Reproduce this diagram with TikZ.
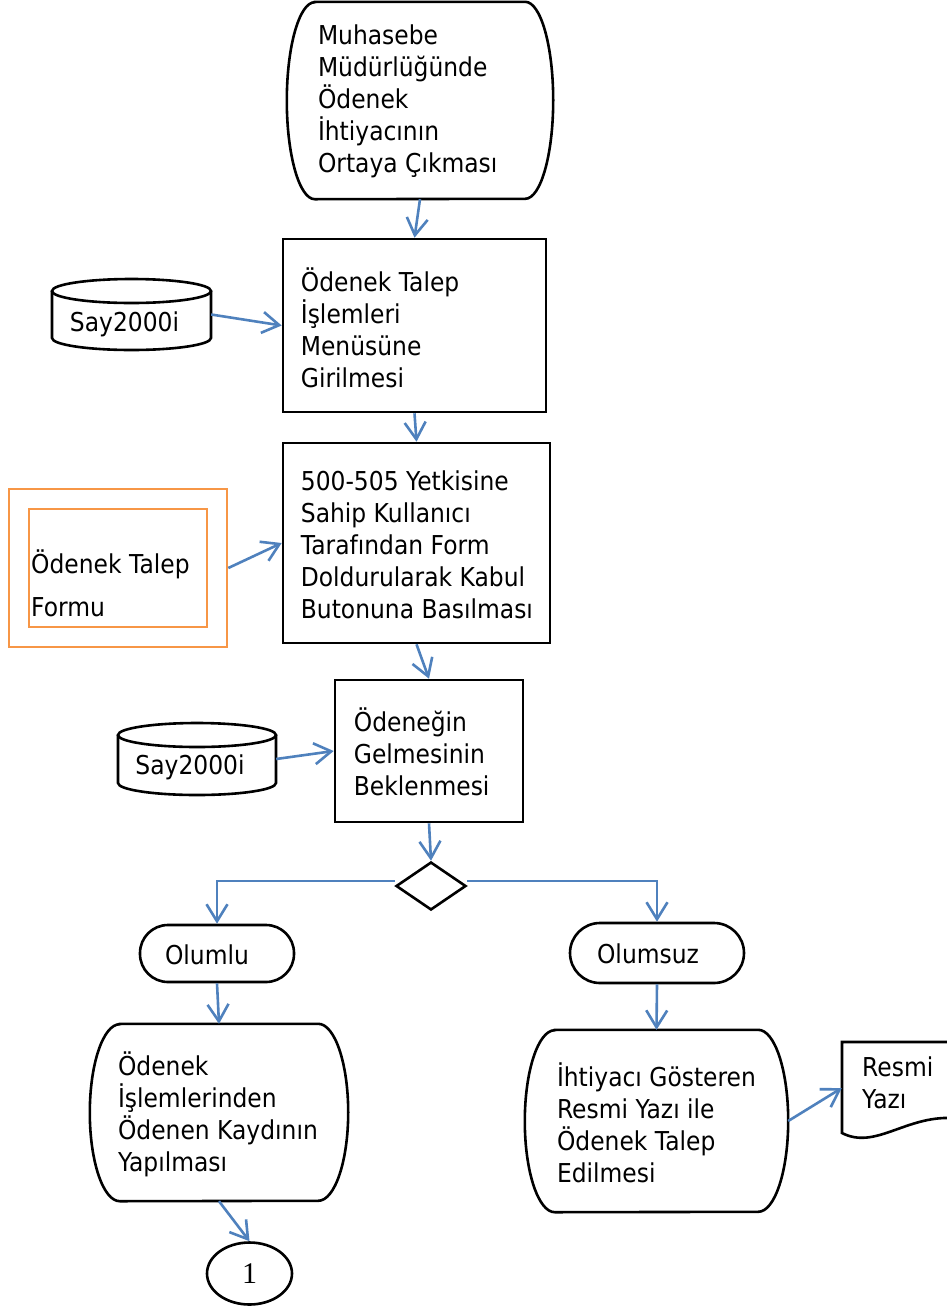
\documentclass[tikz,border=0pt]{standalone}
\usepackage{fontspec}
\setmainfont{DejaVu Sans}[FakeStretch=0.9]
\newfontfamily\serifone{Liberation Serif}
\usetikzlibrary{arrows.meta,shapes.geometric,calc}
\definecolor{arrowblue}{HTML}{4F81BD}
\definecolor{formorange}{HTML}{F79646}
\newcommand\termoutline[3]{% node name, side radius, half height
  \draw[outline] ($(#1.north west)+(#2,0)$) -- ($(#1.north east)+(-#2,0)$)
    arc[start angle=90, end angle=-90, x radius=#2pt, y radius=#3pt]
    -- ($(#1.south west)+(#2,0)$)
    arc[start angle=270, end angle=90, x radius=#2pt, y radius=#3pt] -- cycle;}
\begin{document}
\begin{tikzpicture}[x=1pt,y=-1pt,
  every node/.style={font=\fontsize{26}{32}\selectfont, inner sep=0pt},
  shapebox/.style={draw, line width=2.6pt, rectangle},
  term/.style={rectangle},
  pill/.style={draw, line width=2.6pt, rectangle, rounded corners=28pt},
  txt/.style={align=left, anchor=west},
  outline/.style={line width=2.6pt},
  conn/.style={draw=arrowblue, line width=2.6pt, -{Straight Barb[length=17pt,width=21pt,line width=2.6pt]}},
]
\useasboundingbox (0,0) rectangle (947,1307);

% top terminal
\node[term, minimum width=266pt, minimum height=197pt] (term1) at (420,100.5) {};
\termoutline{term1}{28}{98.5}
\node[txt] (t1) at ($(term1.west)+(31,1)$) {Muhasebe\\Müdürlüğünde\\Ödenek\\İhtiyacının\\Ortaya Çıkması};

% box 2
\node[shapebox, minimum width=263pt, minimum height=173pt] (b2) at (414.5,325.5) {};
\node[txt] (t2) at ($(b2.west)+(19,2)$) {Ödenek Talep\\İşlemleri\\Menüsüne\\Girilmesi};

% cylinder 1
\node[minimum width=159pt, minimum height=71pt] (cyl1) at (131.5,314.5) {};
\draw[outline] (131.5,291) ellipse [x radius=79.5pt, y radius=12pt];
\draw[outline] (52,291) -- (52,338) arc[start angle=180, end angle=360, x radius=79.5pt, y radius=12pt] -- (211,291);
\node (c1t) at ($(cyl1.center)+(-7,10)$) {Say2000i};

% box 3
\node[shapebox, minimum width=267pt, minimum height=200pt] (b3) at (416.5,543) {};
\node[txt] (t3) at ($(b3.west)+(19,2)$) {500-505 Yetkisine\\Sahip Kullanıcı\\Tarafından Form\\Doldurularak Kabul\\Butonuna Basılması};

% orange form
\node[draw=formorange, line width=2.6pt, minimum width=218pt, minimum height=158pt] (formout) at (118,568) {};
\node[draw=formorange, line width=2.6pt, minimum width=178pt, minimum height=118pt] (formin) at (118,568) {};
\node[txt, font=\fontsize{26}{43}\selectfont] (tf) at (31,583) {Ödenek Talep\\Formu};

% box 4
\node[shapebox, minimum width=188pt, minimum height=142pt] (b4) at (429,751) {};
\node[txt] (t4) at ($(b4.west)+(20,1)$) {Ödeneğin\\Gelmesinin\\Beklenmesi};

% cylinder 2
\node[minimum width=158pt, minimum height=72pt] (cyl2) at (197,759) {};
\draw[outline] (197,735) ellipse [x radius=79pt, y radius=12pt];
\draw[outline] (118,735) -- (118,783) arc[start angle=180, end angle=360, x radius=79pt, y radius=12pt] -- (276,735);
\node (c2t) at ($(cyl2.center)+(-7,8)$) {Say2000i};

% decision
\node[draw, diamond, line width=2.6pt, minimum width=70pt, minimum height=48pt] (dia) at (431,886) {};

% outcomes
\node[pill, minimum width=154pt, minimum height=57pt] (olumlu) at (217,953.5) {};
\node (tol) at ($(olumlu.center)+(-10,1)$) {Olumlu};
\node[pill, rounded corners=30pt, minimum width=174pt, minimum height=60pt] (olumsuz) at (657,953) {};
\node (tos) at ($(olumsuz.center)+(-9,1)$) {Olumsuz};

% bottom terminals
\node[term, minimum width=258pt, minimum height=177pt] (term2) at (219,1112.5) {};
\termoutline{term2}{30}{88.5}
\node[txt] (t5) at ($(term2.west)+(28,2)$) {Ödenek\\İşlemlerinden\\Ödenen Kaydının\\Yapılması};

\node[term, minimum width=263pt, minimum height=182pt] (term3) at (656.5,1121) {};
\termoutline{term3}{30}{91}
\node[txt] (t6) at ($(term3.west)+(32,2)$) {İhtiyacı Gösteren\\Resmi Yazı ile\\Ödenek Talep\\Edilmesi};

% document
\node[minimum width=110pt, minimum height=93pt] (doc) at (897,1088) {};
\draw[outline] (952,1042) -- (842,1042) -- (842,1133) .. controls (875,1150) and (905,1116) .. (952,1118);
\node[txt] (t7) at (862,1083) {Resmi\\Yazı};

% connector circle
\node[draw, ellipse, line width=2.6pt, minimum width=85pt, minimum height=62pt, font=\serifone\fontsize{30}{32}\selectfont] (one) at (249.5,1273.5) {1};

% connectors
\draw[conn] (term1.south) -- (b2.north);
\draw[conn] (cyl1.east) -- (b2.west);
\draw[conn] (b2.south) -- (b3.north);
\draw[conn] (formout.east) -- (b3.west);
\draw[conn] (b3.south) -- (b4.north);
\draw[conn] (cyl2.east) -- (b4.west);
\draw[conn] (b4.south) -- (dia.north);
\draw[conn] ([yshift=5pt]dia.west) -| (olumlu.north);
\draw[conn] ([yshift=5pt]dia.east) -| (olumsuz.north);
\draw[conn] (olumlu.south) -- (term2.north);
\draw[conn] (olumsuz.south) -- (term3.north);
\draw[conn] (term3.east) -- (doc.west);
\draw[conn] (term2.south) -- (one.north);
\end{tikzpicture}
\end{document}
